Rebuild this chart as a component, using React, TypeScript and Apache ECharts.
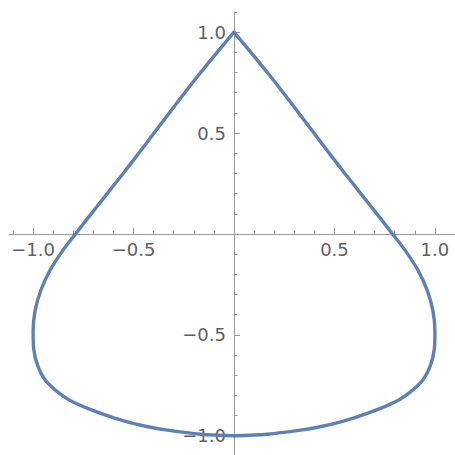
import React, { useEffect, useRef } from "react";
import * as echarts from "echarts";

// Curve: right half and left half, each from top cusp to bottom
const rightX = [0, 0.084, 0.166, 0.245, 0.322, 0.398, 0.474, 0.552, 0.631, 0.711, 0.789, 0.851, 0.916, 0.962, 0.99, 1.0, 0.997, 0.978, 0.94, 0.875, 0.82, 0.726, 0.627, 0.527, 0.428, 0.33, 0.166, 0];
const rightY = [1, 0.9, 0.8, 0.7, 0.6, 0.5, 0.4, 0.3, 0.2, 0.1, 0, -0.08, -0.18, -0.28, -0.38, -0.48, -0.57, -0.65, -0.723, -0.785, -0.822, -0.865, -0.901, -0.932, -0.955, -0.972, -0.992, -1];
const leftX = [0, -0.084, -0.166, -0.245, -0.322, -0.398, -0.474, -0.552, -0.631, -0.711, -0.789, -0.851, -0.916, -0.962, -0.99, -1.0, -0.997, -0.978, -0.94, -0.875, -0.82, -0.726, -0.627, -0.527, -0.428, -0.33, -0.166, 0];
const leftY = [1, 0.9, 0.8, 0.7, 0.6, 0.5, 0.4, 0.3, 0.2, 0.1, 0, -0.08, -0.18, -0.28, -0.38, -0.48, -0.57, -0.65, -0.723, -0.785, -0.822, -0.865, -0.901, -0.932, -0.955, -0.972, -0.992, -1];

// Ticks
const majorTicks = [-1, -0.5, 0.5, 1];
const minorTicks = [-1.1, -0.9, -0.8, -0.7, -0.6, -0.4, -0.3, -0.2, -0.1, 0.1, 0.2, 0.3, 0.4, 0.6, 0.7, 0.8, 0.9, 1.1];

const AXIS_COLOR = "#9a9a9a";
const LABEL_COLOR = "#606060";
const LINE_COLOR = "#5e81b5";
const FONT = "DejaVu Sans, sans-serif";

const fmt = (v: number) => (v < 0 ? "\u2212" + Math.abs(v).toFixed(1) : v.toFixed(1));

export default function App() {
  const ref = useRef<HTMLDivElement>(null);
  useEffect(() => {
    if (!ref.current) return;
    const chart = echarts.init(ref.current, undefined, { renderer: "svg" });
    const pairs = (xs: number[], ys: number[]) => xs.map((x, i) => [x, ys[i]]);
    const xMin = -1.12, xMax = 1.1, yMin = -1.1, yMax = 1.1;
    const hidden = {
      axisLine: { show: false, onZero: false },
      axisTick: { show: false },
      axisLabel: { show: false },
      splitLine: { show: false },
    };
    const gridBase = { containLabel: false, outerBoundsMode: "none" };
    const label = {
      show: true,
      customValues: majorTicks,
      formatter: fmt,
      color: LABEL_COLOR,
      fontSize: 18,
      fontFamily: FONT,
    };
    const curveStyle = { color: LINE_COLOR, width: 3.4, cap: "round", join: "round" };
    chart.setOption({
      animation: false,
      grid: [
        // data grid
        { ...gridBase, left: 9, right: 0, top: 12, bottom: -1 },
        // upper half: its bottom edge is y = 0, carries the x axis
        { ...gridBase, left: 9, right: 0, top: 12, height: 222 },
        // right half: its left edge is x = 0, carries the y axis
        { ...gridBase, left: 234, right: 0, top: 12, bottom: -1 },
      ],
      xAxis: [
        { type: "value", gridIndex: 0, min: xMin, max: xMax, ...hidden },
        {
          type: "value", gridIndex: 1, min: xMin, max: xMax, position: "bottom",
          splitLine: { show: false },
          axisLine: { show: true, onZero: false, lineStyle: { color: AXIS_COLOR, width: 1 } },
          axisTick: { show: true, inside: true, length: 6, customValues: majorTicks, lineStyle: { color: AXIS_COLOR } },
          axisLabel: { ...label, margin: 6 },
        },
        {
          type: "value", gridIndex: 1, min: xMin, max: xMax, position: "bottom",
          splitLine: { show: false },
          axisLine: { show: false, onZero: false },
          axisTick: { show: true, inside: true, length: 3.5, customValues: minorTicks, lineStyle: { color: AXIS_COLOR } },
          axisLabel: { show: false },
        },
        { type: "value", gridIndex: 2, min: 0, max: 1, ...hidden },
      ],
      yAxis: [
        { type: "value", gridIndex: 0, min: yMin, max: yMax, ...hidden },
        { type: "value", gridIndex: 1, min: 0, max: 1, ...hidden },
        {
          type: "value", gridIndex: 2, min: yMin, max: yMax, position: "left",
          splitLine: { show: false },
          axisLine: { show: true, onZero: false, lineStyle: { color: AXIS_COLOR, width: 1 } },
          axisTick: { show: true, inside: true, length: 6, customValues: majorTicks, lineStyle: { color: AXIS_COLOR } },
          axisLabel: { ...label, margin: 8 },
        },
        {
          type: "value", gridIndex: 2, min: yMin, max: yMax, position: "left",
          splitLine: { show: false },
          axisLine: { show: false, onZero: false },
          axisTick: { show: true, inside: true, length: 3.5, customValues: minorTicks, lineStyle: { color: AXIS_COLOR } },
          axisLabel: { show: false },
        },
      ],
      series: [
        {
          type: "line",
          xAxisIndex: 0,
          yAxisIndex: 0,
          data: pairs(rightX, rightY),
          smooth: 0.3,
          showSymbol: false,
          symbol: "none",
          lineStyle: curveStyle,
        },
        {
          type: "line",
          xAxisIndex: 0,
          yAxisIndex: 0,
          data: pairs(leftX, leftY),
          smooth: 0.3,
          showSymbol: false,
          symbol: "none",
          lineStyle: curveStyle,
        },
      ],
    });
    return () => chart.dispose();
  }, []);
  return (
    <div
      ref={ref}
      style={{ position: "fixed", left: 0, top: 0, width: 455, height: 455, background: "#fff" }}
    />
  );
}
